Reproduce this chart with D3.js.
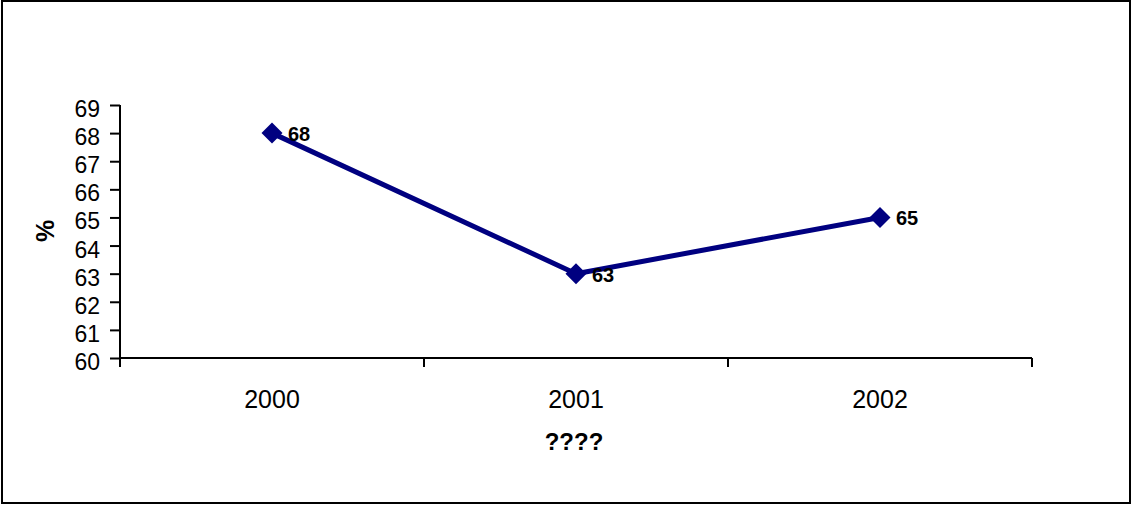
<!DOCTYPE html>
<html><head><meta charset="utf-8">
<script src="https://cdn.jsdelivr.net/npm/d3@7"></script>
<style>html,body{margin:0;padding:0;background:#fff;}svg{display:block;}</style>
</head><body>
<svg id="c" width="1133" height="506"></svg>
<script>
const categories = ["2000", "2001", "2002"];
const values = [68, 63, 65];
const yTicks = [60, 61, 62, 63, 64, 65, 66, 67, 68, 69];
const xTitle = "????";
const yTitle = "%";

(function () {
const svg = d3.select("#c");
const font = "Liberation Sans, Arial, sans-serif";
svg.append("rect").attr("x", 2).attr("y", 1).attr("width", 1128).attr("height", 502)
  .attr("fill", "#fff").attr("stroke", "#000").attr("stroke-width", 2);

const pLeft = 120, pRight = 1032, pTop = 105, pBottom = 358;
const x = d3.scaleBand().domain(categories).range([pLeft, pRight]);
const y = d3.scaleLinear().domain([60, 69]).range([pBottom, pTop]);

// y axis
const ya = svg.append("g").attr("transform", `translate(${pLeft},0)`)
  .call(d3.axisLeft(y).tickValues(yTicks).tickSize(10).tickPadding(10).tickFormat(d3.format("d")));
ya.select(".domain").attr("stroke", "#000").attr("stroke-width", 2).attr("d", `M0,${pTop}V${pBottom}`);
ya.selectAll(".tick line").attr("stroke", "#000").attr("stroke-width", 2);
ya.selectAll(".tick text").attr("font-family", font).attr("font-size", 23).attr("fill", "#000")
  .attr("dy", "0.5em");

// x axis
const xa = svg.append("g").attr("transform", `translate(0,${pBottom})`);
xa.append("line").attr("x1", pLeft).attr("x2", pRight).attr("stroke", "#000").attr("stroke-width", 2);
const bounds = categories.map(c => x(c)).concat([x(categories[categories.length - 1]) + x.bandwidth()]);
xa.selectAll("line.t").data(bounds).join("line").attr("class", "t")
  .attr("x1", d => d).attr("x2", d => d).attr("y1", 0).attr("y2", 9)
  .attr("stroke", "#000").attr("stroke-width", 2);
xa.selectAll("text").data(categories).join("text")
  .attr("x", d => x(d) + x.bandwidth() / 2).attr("y", 50)
  .attr("text-anchor", "middle").attr("font-family", font).attr("font-size", 25).text(d => d);

svg.append("text").attr("x", 574).attr("y", 450).attr("text-anchor", "middle")
  .attr("font-family", font).attr("font-size", 24).attr("font-weight", "bold").text(xTitle);
svg.append("text").attr("transform", `translate(54,231) rotate(-90)`)
  .attr("text-anchor", "middle").attr("font-family", font).attr("font-size", 25)
  .attr("font-weight", "bold").text(yTitle);

const cx = d => x(d) + x.bandwidth() / 2;
const pts = categories.map((c, i) => [cx(c), y(values[i])]);
svg.append("path").attr("d", d3.line()(pts)).attr("fill", "none")
  .attr("stroke", "#000080").attr("stroke-width", 5).attr("stroke-linejoin", "round");
svg.selectAll("path.m").data(pts).join("path").attr("class", "m")
  .attr("transform", d => `translate(${d[0]},${d[1]})`)
  .attr("d", "M0,-10.5L10.5,0L0,10.5L-10.5,0Z").attr("fill", "#000080");
svg.selectAll("text.lbl").data(pts).join("text").attr("class", "lbl")
  .attr("x", d => d[0] + 16).attr("y", d => d[1] + 8)
  .attr("font-family", font).attr("font-size", 20).attr("font-weight", "bold")
  .text((d, i) => values[i]);
})();
</script>
</body></html>
